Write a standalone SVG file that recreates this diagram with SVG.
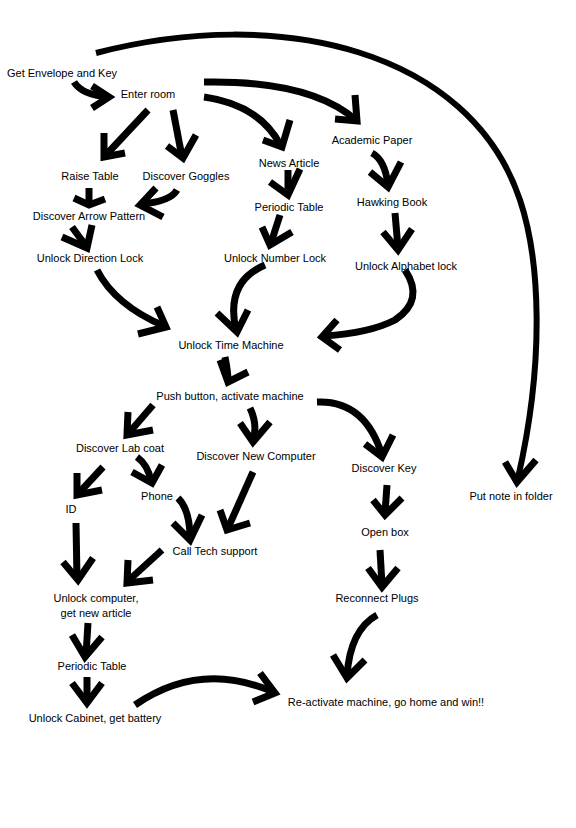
<svg xmlns="http://www.w3.org/2000/svg" width="576" height="828" viewBox="0 0 576 828">
<style>
text{font-family:"Liberation Sans",Arial,sans-serif;font-size:11px;fill:#000;text-anchor:middle}
.s{fill:none;stroke:#000;stroke-width:7;stroke-linecap:butt}
.h{fill:none;stroke:#000;stroke-width:7;stroke-linejoin:miter;stroke-miterlimit:10;stroke-linecap:butt}
</style>
<rect width="576" height="828" fill="#fff"/>
<g id="connectors">
<path class="s" style="stroke-width:6" d="M96,53 C280,5 470,50 520,200 C540,260 545,360 518,478"/>
<polyline class="h" points="505,462 517,482 536,460"/>
<path class="s" d="M74,82 Q82,95 108,97"/>
<polyline class="h" points="92,86 109,97 92,108"/>
<path class="s" d="M148,110 L105,156"/>
<polyline class="h" points="104,133 104,157 125,153"/>
<path class="s" d="M173,110 L182,157"/>
<polyline class="h" points="167,146 183,158 196,135"/>
<path class="s" d="M204,97 Q260,105 281,146"/>
<polyline class="h" points="263,140 282,147 290,120"/>
<path class="s" d="M204,82 Q310,80 356,120"/>
<polyline class="h" points="335,119 357,121 355,95"/>
<path class="s" d="M89,188 L89,204"/>
<polyline class="h" points="74,198 89,205 105,199"/>
<path class="s" d="M177,190 Q170,202 140,204"/>
<polyline class="h" points="156,188 140,205 163,217"/>
<path class="s" d="M72,227 Q80,238 87,247"/>
<polyline class="h" points="62,237 87,248 92,225"/>
<path class="s" d="M97,270 Q115,305 164,326"/>
<polyline class="h" points="157,307 166,327 138,334"/>
<path class="s" d="M288,170 L288,194"/>
<polyline class="h" points="270,182 288,195 300,169"/>
<path class="s" d="M280,215 L271,243"/>
<polyline class="h" points="262,227 270,245 292,232"/>
<path class="s" d="M265,265 Q225,282 236,330"/>
<polyline class="h" points="217,313 237,332 248,310"/>
<path class="s" d="M372,153 Q385,160 388,185"/>
<polyline class="h" points="370,172 388,187 401,162"/>
<path class="s" d="M395,213 L398,248"/>
<polyline class="h" points="383,232 398,250 412,229"/>
<path class="s" d="M405,270 Q425,300 395,320 Q370,333 324,336"/>
<polyline class="h" points="337,320 322,337 340,350"/>
<path class="s" d="M225,357 Q228,372 228,381"/>
<polyline class="h" points="220,360 228,382 248,372"/>
<path class="s" d="M153,405 L128,434"/>
<polyline class="h" points="128,412 127,435 153,430"/>
<path class="s" d="M250,408 Q258,425 253,440"/>
<polyline class="h" points="240,423 253,442 270,422"/>
<path class="s" d="M317,402 Q365,400 382,455"/>
<polyline class="h" points="365,444 382,457 393,435"/>
<path class="s" d="M103,467 L78,494"/>
<polyline class="h" points="77,473 77,495 102,490"/>
<path class="s" d="M137,457 Q148,465 151,481"/>
<polyline class="h" points="132,472 152,483 162,465"/>
<path class="s" d="M253,472 L228,528"/>
<polyline class="h" points="220,510 227,530 250,523"/>
<path class="s" d="M178,498 Q190,510 190,538"/>
<polyline class="h" points="173,523 190,540 202,515"/>
<path class="s" d="M76,523 L77,579"/>
<polyline class="h" points="63,562 78,580 93,558"/>
<path class="s" d="M162,550 L128,581"/>
<polyline class="h" points="128,560 127,583 153,580"/>
<path class="s" d="M88,623 L86,655"/>
<polyline class="h" points="72,635 85,657 102,637"/>
<path class="s" d="M87,677 L87,701"/>
<polyline class="h" points="72,683 87,703 102,683"/>
<path class="s" d="M135,705 Q200,660 273,692"/>
<polyline class="h" points="260,673 275,693 253,702"/>
<path class="s" d="M387,485 L385,513"/>
<polyline class="h" points="373,500 385,515 402,498"/>
<path class="s" d="M380,550 L382,585"/>
<polyline class="h" points="368,568 382,587 398,568"/>
<path class="s" d="M377,615 Q350,630 347,676"/>
<polyline class="h" points="333,655 347,678 365,660"/>
</g>
<g id="n-envelope"><text x="62" y="77">Get Envelope and Key</text></g>
<g id="n-enter"><text x="148" y="98">Enter room</text></g>
<g id="n-raise"><text x="90" y="180">Raise Table</text></g>
<g id="n-goggles"><text x="186" y="180">Discover Goggles</text></g>
<g id="n-arrowpattern"><text x="89" y="220">Discover Arrow Pattern</text></g>
<g id="n-directionlock"><text x="90" y="262">Unlock Direction Lock</text></g>
<g id="n-news"><text x="289" y="167">News Article</text></g>
<g id="n-periodic1"><text x="289" y="211">Periodic Table</text></g>
<g id="n-numberlock"><text x="275" y="262">Unlock Number Lock</text></g>
<g id="n-academic"><text x="372" y="144">Academic Paper</text></g>
<g id="n-hawking"><text x="392" y="206">Hawking Book</text></g>
<g id="n-alphabet"><text x="406" y="270">Unlock Alphabet lock</text></g>
<g id="n-timemachine"><text x="231" y="349">Unlock Time Machine</text></g>
<g id="n-push"><text x="230" y="400">Push button, activate machine</text></g>
<g id="n-labcoat"><text x="120" y="452">Discover Lab coat</text></g>
<g id="n-newcomputer"><text x="256" y="460">Discover New Computer</text></g>
<g id="n-key"><text x="384" y="472">Discover Key</text></g>
<g id="n-note"><text x="511" y="500">Put note in folder</text></g>
<g id="n-phone"><text x="157" y="500">Phone</text></g>
<g id="n-id"><text x="71" y="513">ID</text></g>
<g id="n-openbox"><text x="385" y="536">Open box</text></g>
<g id="n-techsupport"><text x="215" y="555">Call Tech support</text></g>
<g id="n-plugs"><text x="377" y="602">Reconnect Plugs</text></g>
<g id="n-unlockcomputer"><text x="96" y="602">Unlock computer,</text><text x="96" y="617">get new article</text></g>
<g id="n-periodic2"><text x="92" y="670">Periodic Table</text></g>
<g id="n-cabinet"><text x="95" y="722">Unlock Cabinet, get battery</text></g>
<g id="n-win"><text x="386" y="706">Re-activate machine, go home and win!!</text></g>
</svg>
